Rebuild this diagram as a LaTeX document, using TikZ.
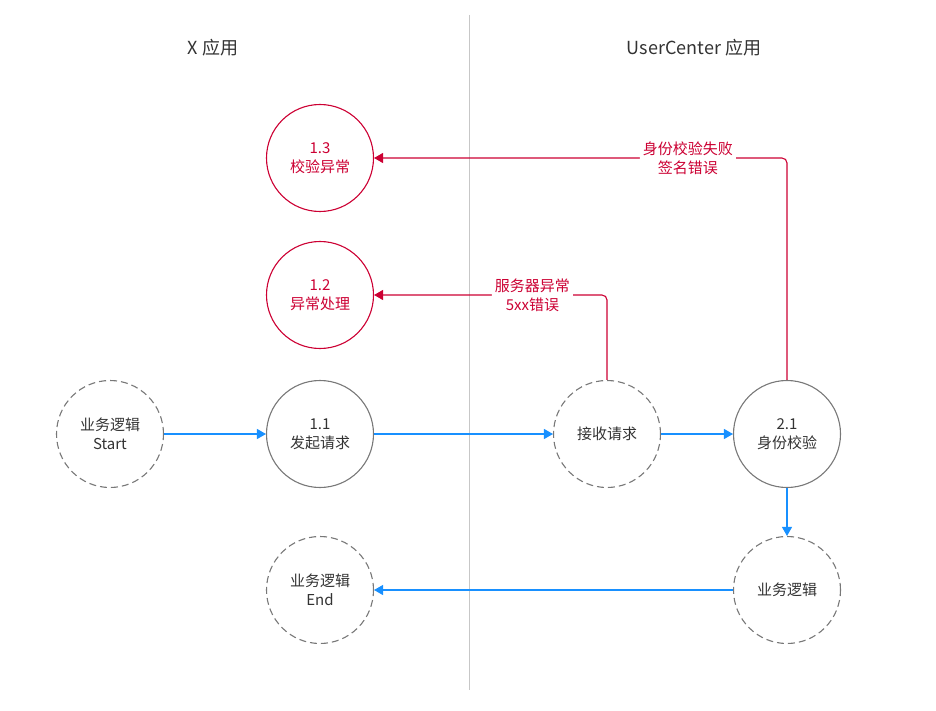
\documentclass[tikz,border=0pt]{standalone}
\usepackage{fontspec}
\setmainfont{Noto Sans CJK SC}
\usetikzlibrary{arrows.meta}
\definecolor{errred}{RGB}{204,0,51}
\definecolor{flowblue}{RGB}{24,144,255}
\definecolor{ringgray}{RGB}{120,120,120}
\definecolor{txtgray}{RGB}{51,51,51}
\begin{document}
\begin{tikzpicture}[x=1pt, y=-1pt, font=\fontsize{15}{19}\selectfont, text=txtgray,
  proc/.style={draw=ringgray, line width=1.1pt, circle, minimum size=107pt, inner sep=0pt, align=center},
  ext/.style={proc, dash pattern=on 7pt off 4pt},
  err/.style={proc, draw=errred, text=errred},
  hdr/.style={font=\fontsize{18}{21}\selectfont},
  flow/.style={draw=flowblue, line width=1.1pt, -{Triangle[width=10pt,length=9pt]}},
  fail/.style={draw=errred, line width=1.1pt, rounded corners=5pt, -{Triangle[width=10pt,length=9pt]}},
  why/.style={fill=white, text=errred, align=center, inner sep=3pt},
]
  \useasboundingbox (0,0) rectangle (936,711);
  \draw[black!22, line width=1pt] (469,15) -- (469,690);

  \node[hdr] (hx) at (213,48)  {X 应用};
  \node[hdr] (huc) at (694,48) {UserCenter 应用};

  \node[err]  (p13)   at (320,158) {1.3\\校验异常};
  \node[err]  (p12)   at (320,295) {1.2\\异常处理};
  \node[ext]  (start) at (110,434) {业务逻辑\\Start};
  \node[proc] (p11)   at (320,434) {1.1\\发起请求};
  \node[ext]  (recv)  at (607,434) {接收请求};
  \node[proc] (p21)   at (787,434) {2.1\\身份校验};
  \node[ext]  (biz)   at (787,590) {业务逻辑};
  \node[ext]  (stop)  at (320,590) {业务逻辑\\End};

  \draw[flow] (start) -- (p11);
  \draw[flow] (p11) -- (recv);
  \draw[flow] (recv) -- (p21);
  \draw[flow] (p21) -- (biz);
  \draw[flow] (biz) -- (stop);

  \draw[fail] (p21.north) |- (p13.east)
    node[why, pos=0.62] (w13) {身份校验失败\\签名错误};
  \draw[fail] (recv.north) |- (p12.east)
    node[why, pos=0.66] (w12) {服务器异常\\5xx错误};
\end{tikzpicture}
\end{document}
